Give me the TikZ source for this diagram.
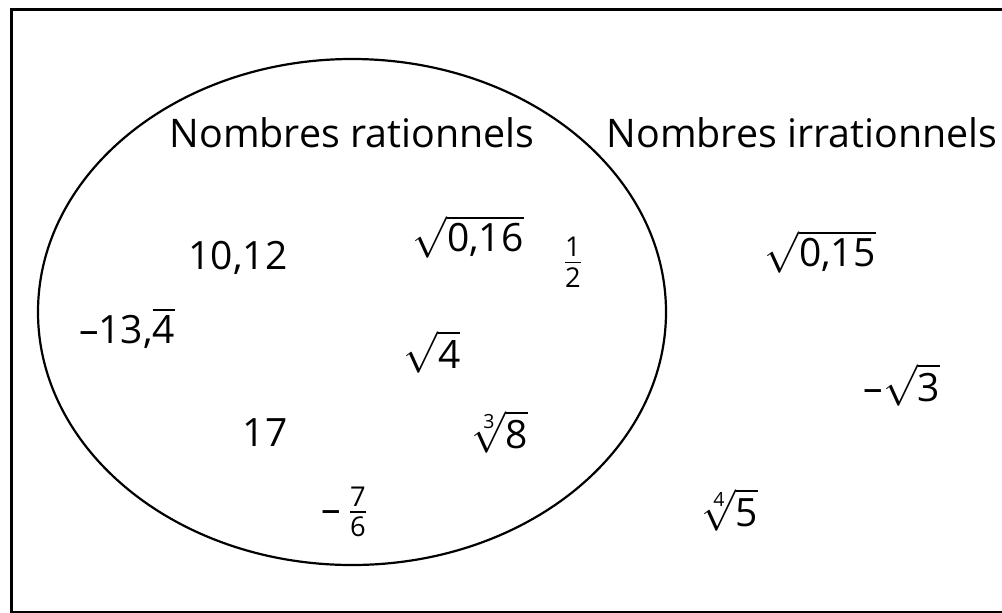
\documentclass[tikz,border=0pt]{standalone}
\usepackage{amsmath}
\usepackage{fontspec}
\setmainfont{Open Sans}
\usepackage{tikz}
\usetikzlibrary{positioning}

\tikzset{
  setlabel/.style={font=\fontsize{19.7}{23}\selectfont, inner sep=0pt},
  numlabel/.style={font=\fontsize{19.5}{23}\selectfont, inner sep=0pt}
}

\begin{document}
\begin{tikzpicture}[x=0.5pt,y=-0.5pt]
\useasboundingbox (0,0) rectangle (1002,612);
\clip (0,0) rectangle (1002,612);
% frame
\draw[line width=1.5pt] (11,9) rectangle (1015,612);
% rational numbers
\draw[line width=1.1pt] (352,312) ellipse [x radius=314, y radius=253];
\node[setlabel] (rat) at (352,133) {Nombres rationnels};
\node[setlabel] (irr) at (802,133) {Nombres irrationnels};
% inside
\node[numlabel] (a) at (238,258) {10,12};
\node[numlabel] (b) at (468,237) {$\sqrt{\text{0,16}}$};
\node[numlabel] (c) at (573,262) {$\frac{\text{1}}{\text{2}}$};
\node[numlabel] (d) at (127,328) {–13,$\overline{\text{4}}$};
\node[numlabel] (e) at (432,352) {$\sqrt{\text{4}}$};
\node[numlabel] (f) at (265,433) {17};
\node[numlabel] (g) at (500,432) {$\sqrt[\text{3}]{\text{8}}$};
\node[numlabel] (h) at (345,512) {–\,$\frac{\text{7}}{\text{6}}$};
% outside
\node[numlabel] (i) at (820,252) {$\sqrt{\text{0,15}}$};
\node[numlabel] (j) at (902,385) {–$\sqrt{\text{3}}$};
\node[numlabel] (k) at (730,510) {$\sqrt[\text{4}]{\text{5}}$};
\end{tikzpicture}
\end{document}
